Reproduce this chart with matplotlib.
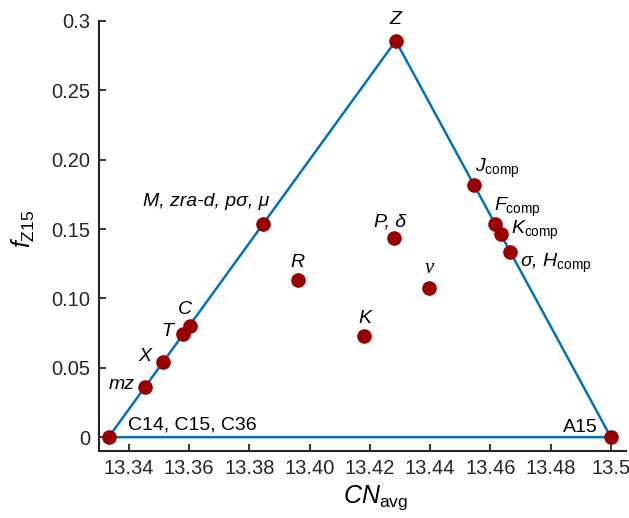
"""Average coordination number vs. Z15 fraction for FK phases."""

import matplotlib
matplotlib.use('Agg')
import matplotlib.pyplot as plt

plt.rcParams['font.family'] = ['Liberation Sans', 'DejaVu Sans']
plt.rcParams['mathtext.fontset'] = 'custom'
plt.rcParams['mathtext.rm'] = 'Liberation Sans'
plt.rcParams['mathtext.it'] = 'Liberation Sans:italic'
plt.rcParams['mathtext.bf'] = 'Liberation Sans:bold'

# phase data: CN_avg and f_Z15
phases = ['C14, C15, C36', 'mz', 'X', 'T', 'C', 'M, zra-d, pσ, μ', 'R', 'Z',
          'P, δ', 'K', 'ν', 'J_comp', 'F_comp', 'K_comp', 'σ, H_comp', 'A15']
cn_avg = [13.3333, 13.3453, 13.3513, 13.3580, 13.3603, 13.3846, 13.3961, 13.4286,
          13.4281, 13.4182, 13.4397, 13.4545, 13.4615, 13.4634, 13.4667, 13.5]
f_z15 = [0.0, 0.0364, 0.0541, 0.0745, 0.0800, 0.1538, 0.1136, 0.2857,
         0.1436, 0.0729, 0.1075, 0.1818, 0.1538, 0.1463, 0.1333, 0.0]

# triangle corners (Laves, Z, A15)
tri_x = [13.3333, 13.4286, 13.5, 13.3333]
tri_y = [0.0, 0.2857, 0.0, 0.0]

label_text = {
    'J_comp': r'$J_{\mathrm{comp}}$',
    'F_comp': r'$F_{\mathrm{comp}}$',
    'K_comp': r'$K_{\mathrm{comp}}$',
    'σ, H_comp': r'σ, $H_{\mathrm{comp}}$',
}
# label offsets in pixels (dx, dy, ha)
label_pos = {
    'C14, C15, C36': (19, 12, 'left'), 'mz': (-10, 2, 'right'), 'X': (-18, 6, 'center'),
    'T': (-16, 2, 'center'), 'C': (-5, 17, 'center'), 'M, zra-d, pσ, μ': (6, 22, 'right'),
    'R': (0, 17, 'center'), 'Z': (0, 21, 'center'), 'P, δ': (-4, 16, 'center'),
    'K': (0, 18, 'center'), 'ν': (0, 20, 'center'), 'J_comp': (1, 17, 'left'),
    'F_comp': (-1, 16, 'left'), 'K_comp': (10, 4, 'left'), 'σ, H_comp': (10, -11, 'left'),
    'A15': (-13, 10, 'right'),
}
upright = {'C14, C15, C36', 'A15'}

fig = plt.figure(figsize=(6.29, 5.18), dpi=100)
ax = fig.add_axes([0.157, 0.1293, 0.838, 0.8302])

ax.plot(tri_x, tri_y, color='#0072BD', linewidth=1.8, zorder=2)
ax.plot(cn_avg, f_z15, 'o', color='#990000', markersize=9.5,
        markeredgecolor='#990000', zorder=3)

for name, x, y in zip(phases, cn_avg, f_z15):
    dx, dy, ha = label_pos[name]
    text = label_text.get(name, name)
    kw = dict(fontsize=14, ha=ha, va='center', textcoords='offset pixels',
              xytext=(dx, dy), xy=(x, y))
    if name == 'ν':
        kw.update(family='Liberation Serif', fontstyle='italic', fontsize=15)
    elif name not in upright:
        kw.update(fontstyle='italic')
    ax.annotate(text, **kw)

ax.set_xlim(13.33, 13.505)
ax.set_ylim(-0.01, 0.3)
ax.set_xticks([13.34, 13.36, 13.38, 13.40, 13.42, 13.44, 13.46, 13.48, 13.5])
ax.set_xticklabels(['13.34', '13.36', '13.38', '13.40', '13.42', '13.44',
                    '13.46', '13.48', '13.5'])
ax.set_yticks([0, 0.05, 0.10, 0.15, 0.20, 0.25, 0.3])
ax.set_yticklabels(['0', '0.05', '0.10', '0.15', '0.20', '0.25', '0.3'])

for side in ['top', 'right']:
    ax.spines[side].set_visible(False)
for side in ['left', 'bottom']:
    ax.spines[side].set_linewidth(1.5)
    ax.spines[side].set_color('#262626')
ax.tick_params(direction='in', length=5, width=1.3, labelsize=14.5, pad=6,
               color='#262626', labelcolor='#262626')

ax.set_xlabel(r'$CN_{\mathrm{avg}}$', fontsize=18)
ax.set_ylabel(r'$f_{\mathrm{Z15}}$', fontsize=18)
ax.xaxis.set_label_coords(0.526, -0.075)
ax.yaxis.set_label_coords(-0.117, 0.516)

fig.savefig('out.png', dpi=100)
plt.close(fig)
